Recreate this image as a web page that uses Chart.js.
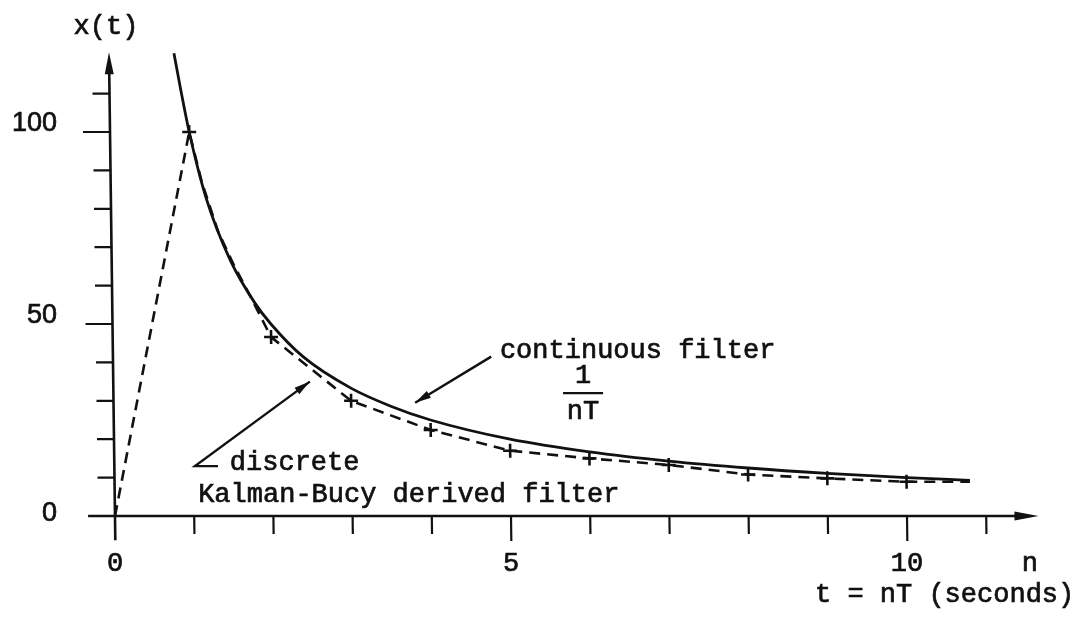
<!DOCTYPE html>
<html>
<head>
<meta charset="utf-8">
<title>x(t) – continuous vs discrete filter</title>
<script src="https://cdn.jsdelivr.net/npm/chart.js@4.4.1/dist/chart.umd.min.js"></script>
<style>
  html, body { margin: 0; padding: 0; background: #ffffff; overflow: hidden; }
  #wrap { width: 1078px; height: 624px; position: relative; }
</style>
</head>
<body>
<div id="wrap"><canvas id="c" width="1078" height="624"></canvas></div>
<script>
// Continuous filter 1/(nT), sampled along the curve
const contN = [0.82, 0.90, 1.00, 1.20, 1.50, 1.80, 2.00, 2.40, 3.00, 3.50, 4.00, 5.00, 6.00, 7.00, 8.00, 9.00, 10.00, 10.80];
const contX = [120.5, 111, 100, 83, 66.5, 55.5, 50, 41.5, 33.3, 28.6, 25, 20, 16.7, 14.3, 12.5, 11.1, 10, 9.3];

// Discrete Kalman-Bucy derived filter (dashed); samples at whole n carry a "+"
const discN = [0, 1, 1.15, 1.35, 1.55, 1.75, 2, 3, 4, 5, 6, 7, 8, 9, 10, 10.8];
const discX = [0, 100, 87, 74, 65, 57, 46.6, 30, 22.4, 17, 15, 13.3, 10.8, 9.8, 8.9, 8.9];

// Axis ticks and their labels
const xTickValues = [1, 2, 3, 4, 5, 6, 7, 8, 9, 10, 11];
const xLabelValues = [0, 5, 10];
const xLabelTexts = ['0', '5', '10'];
const yTickValues = [10, 20, 30, 40, 50, 60, 70, 80, 90, 100, 110];
const yLabelValues = [0, 50, 100];
const yLabelTexts = ['0', '50', '100'];

const INK = '#111111';
const MONO = '"Liberation Mono", "DejaVu Sans Mono", monospace';
const SANS = '"Liberation Sans", Arial, sans-serif';

const toPoints = (xs, ys) => xs.map((x, i) => ({ x: x, y: ys[i] }));

function arrowHead(ctx, x0, y0, x1, y1, len, half) {
  const a = Math.atan2(y1 - y0, x1 - x0);
  ctx.beginPath();
  ctx.moveTo(x1, y1);
  ctx.lineTo(x1 - len * Math.cos(a) + half * Math.sin(a), y1 - len * Math.sin(a) - half * Math.cos(a));
  ctx.lineTo(x1 - len * Math.cos(a) - half * Math.sin(a), y1 - len * Math.sin(a) + half * Math.cos(a));
  ctx.closePath();
  ctx.fill();
}

// Typed text: filled, then lightly stroked so the strokes read heavier
function typeText(ctx, s, x, y) {
  ctx.fillText(s, x, y);
  ctx.strokeText(s, x, y);
}

// The drawn axes and curves lean slightly: the vertical axis tilts a little to the left.
// The shear is applied to axes and datasets only; the lettering is drawn upright.
const SHEAR = 0.013;

const figurePlugin = {
  id: 'figure',
  beforeDraw(chart) {
    const ctx = chart.ctx;
    const y0 = chart.scales.y.getPixelForValue(0);
    ctx.save();
    ctx.transform(1, 0, SHEAR, 1, -SHEAR * y0, 0);
  },
  beforeDatasetsDraw(chart) {
    const ctx = chart.ctx;
    const xs = chart.scales.x, ys = chart.scales.y;
    const X = v => xs.getPixelForValue(v);
    const Y = v => ys.getPixelForValue(v);
    const ox = X(0), oy = Y(0);
    ctx.save();
    ctx.strokeStyle = INK;
    ctx.fillStyle = INK;
    ctx.lineWidth = 2.6;
    ctx.lineCap = 'butt';

    // horizontal axis
    const xEnd = X(11.66);
    ctx.beginPath();
    ctx.moveTo(X(-0.34), oy);
    ctx.lineTo(xEnd - 10, oy);
    ctx.stroke();
    arrowHead(ctx, xEnd - 30, oy, xEnd, oy, 24, 4.5);

    // vertical axis
    const yTop = Y(120.8);
    ctx.beginPath();
    ctx.moveTo(ox, Y(-6.3));
    ctx.lineTo(ox, yTop + 10);
    ctx.stroke();
    arrowHead(ctx, ox, yTop + 30, ox, yTop, 22, 4.5);

    // ticks
    ctx.lineWidth = 2.2;
    xTickValues.forEach(v => {
      const long = v % 5 === 0;
      ctx.beginPath();
      ctx.moveTo(X(v), oy);
      ctx.lineTo(X(v), oy + (long ? 25 : 18));
      ctx.stroke();
    });
    yTickValues.forEach(v => {
      const long = v % 50 === 0;
      ctx.beginPath();
      ctx.moveTo(ox, Y(v));
      ctx.lineTo(ox - (long ? 27 : 17), Y(v));
      ctx.stroke();
    });
    ctx.restore();
  },
  afterDatasetsDraw(chart) {
    const ctx = chart.ctx;
    ctx.restore(); // end of shear

    const xs = chart.scales.x, ys = chart.scales.y;
    const X = v => xs.getPixelForValue(v);
    const Y = v => ys.getPixelForValue(v);
    const oy = Y(0);
    ctx.save();
    ctx.strokeStyle = INK;
    ctx.fillStyle = INK;
    ctx.textBaseline = 'middle';
    ctx.lineWidth = 0.7;

    // tick labels
    ctx.font = '27px ' + MONO;
    ctx.textAlign = 'center';
    xLabelValues.forEach((v, i) => typeText(ctx, xLabelTexts[i], X(v), oy + 48));
    typeText(ctx, 'n', X(11.55), oy + 48);

    ctx.font = '27px ' + SANS;
    ctx.textAlign = 'right';
    yLabelValues.forEach((v, i) => typeText(ctx, yLabelTexts[i], 57, Y(v) - (v === 0 ? 2 : 8)));

    // axis titles
    ctx.font = '27px ' + MONO;
    ctx.textAlign = 'center';
    typeText(ctx, 'x(t)', 106, 27);
    ctx.textAlign = 'left';
    typeText(ctx, 't = nT (seconds)', 815, 595);

    // "continuous filter" label with its pointer onto the solid curve
    typeText(ctx, 'continuous filter', X(4.86), Y(43));
    ctx.lineWidth = 2.4;
    const c0 = [X(4.75), Y(41.5)], c1 = [X(3.79), Y(29.5)];
    ctx.beginPath();
    ctx.moveTo(c0[0], c0[1]);
    ctx.lineTo(c1[0], c1[1]);
    ctx.stroke();
    arrowHead(ctx, c0[0], c0[1], c1[0], c1[1], 16, 4);

    // 1 / nT
    ctx.textAlign = 'center';
    const fx = X(5.91);
    ctx.lineWidth = 0.7;
    typeText(ctx, '1', fx, Y(36.5));
    typeText(ctx, 'nT', fx, Y(27));
    ctx.lineWidth = 2.4;
    ctx.beginPath();
    ctx.moveTo(fx - 20, Y(32));
    ctx.lineTo(fx + 20, Y(32));
    ctx.stroke();

    // "discrete Kalman-Bucy derived filter" label with its pointer onto the dashed curve
    ctx.lineWidth = 0.7;
    ctx.textAlign = 'left';
    typeText(ctx, 'discrete', X(1.45), Y(13.8));
    typeText(ctx, 'Kalman-Bucy derived filter', X(1.05), Y(5.4));
    ctx.lineWidth = 2.4;
    const d0 = [X(1.01), Y(13.0)], d1 = [X(2.46), Y(35)];
    ctx.beginPath();
    ctx.moveTo(X(1.30), d0[1]);
    ctx.lineTo(d0[0], d0[1]);
    ctx.lineTo(d1[0], d1[1]);
    ctx.stroke();
    arrowHead(ctx, d0[0], d0[1], d1[0], d1[1], 16, 4);
    ctx.restore();
  }
};

new Chart(document.getElementById('c'), {
  type: 'scatter',
  data: {
    datasets: [
      {
        label: 'continuous filter 1/nT',
        data: toPoints(contN, contX),
        showLine: true,
        borderColor: INK,
        borderWidth: 2.8,
        pointRadius: 0,
        cubicInterpolationMode: 'monotone',
        fill: false
      },
      {
        label: 'discrete Kalman-Bucy derived filter',
        data: toPoints(discN, discX),
        showLine: true,
        borderColor: INK,
        borderWidth: 2.6,
        borderDash: [11, 7],
        tension: 0,
        pointStyle: 'cross',
        pointRadius: ctx => {
          const n = ctx.raw && ctx.raw.x;
          return (Number.isInteger(n) && n > 0) ? 7 : 0;
        },
        pointBorderColor: INK,
        pointBorderWidth: 2.6,
        fill: false
      }
    ]
  },
  options: {
    responsive: false,
    animation: false,
    devicePixelRatio: 1,
    layout: { padding: 0 },
    plugins: {
      legend: { display: false },
      tooltip: { enabled: false },
      title: { display: false }
    },
    scales: {
      x: { type: 'linear', display: false, min: -1.452, max: 12.159 },
      y: { type: 'linear', display: false, min: -28.125, max: 134.375 }
    }
  },
  plugins: [figurePlugin]
});
</script>
</body>
</html>
